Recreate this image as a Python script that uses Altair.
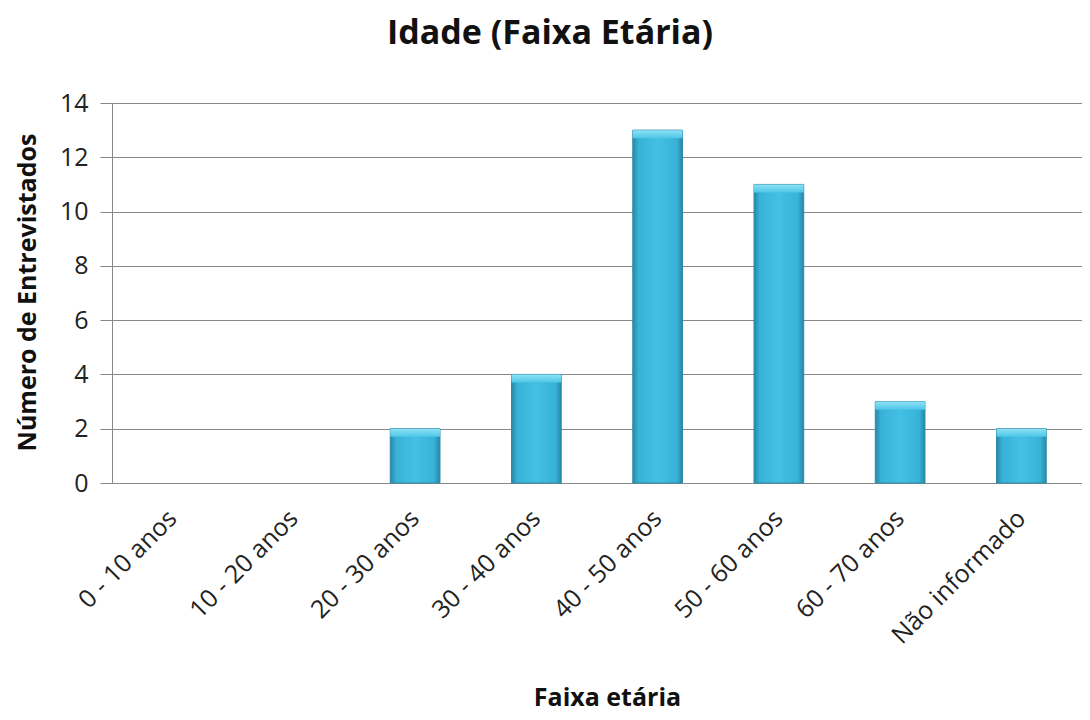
import altair as alt
import pandas as pd

categorias = ["0 - 10 anos", "10 - 20 anos", "20 - 30 anos", "30 - 40 anos",
              "40 - 50 anos", "50 - 60 anos", "60 - 70 anos", "Não informado"]
entrevistados = [0, 0, 2, 4, 13, 11, 3, 2]

df = pd.DataFrame({"cat": categorias, "n": entrevistados})

FONT = "Open Sans"

grad = alt.Gradient(
    gradient="linear", x1=0, x2=1, y1=0, y2=0,
    stops=[
        alt.GradientStop(color="#2a86a6", offset=0),
        alt.GradientStop(color="#38b3d8", offset=0.12),
        alt.GradientStop(color="#43c0e3", offset=0.5),
        alt.GradientStop(color="#38b3d8", offset=0.88),
        alt.GradientStop(color="#2a86a6", offset=1),
    ],
)
cap_grad = alt.Gradient(
    gradient="linear", x1=0, x2=0, y1=0, y2=1,
    stops=[
        alt.GradientStop(color="#8fe2f5", offset=0),
        alt.GradientStop(color="#4cc6e7", offset=1),
    ],
)

x_enc = alt.X("cat:N", sort=categorias,
              scale=alt.Scale(domain=categorias, paddingInner=0.59, paddingOuter=0.295),
              axis=alt.Axis(title="Faixa etária", labelAngle=-45, labelAlign="right",
                            labelBaseline="middle", labelPadding=31, ticks=False,
                            labelFontSize=25, labelFont=FONT, labelColor="#222",
                            titleFontSize=25, titleFont=FONT, titleFontWeight="bold",
                            titleColor="#111", titleY=214, titleX=495, titleAlign="center",
                            titleBaseline="middle",
                            domainColor="#888", domainWidth=1.2))
y_enc = alt.Y("n:Q", scale=alt.Scale(domain=[0, 14]),
              axis=alt.Axis(title="Número de Entrevistados", values=list(range(0, 15, 2)),
                            tickSize=12, tickColor="#888", domainColor="#888",
                            gridColor="#888", gridWidth=1,
                            labelFontSize=25, labelFont=FONT, labelColor="#222", labelPadding=12,
                            titleFontSize=25, titleFont=FONT, titleFontWeight="bold",
                            titleColor="#111", titleX=-85, titleY=189, titleAlign="center",
                            titleBaseline="middle"))

base = alt.Chart(df).transform_filter("datum.n > 0")

bars = base.mark_bar(fill=grad, stroke="#2c8aa8", strokeWidth=1).encode(x=x_enc, y=y_enc)

caps = base.transform_calculate(top="datum.n - 0.3").mark_bar(fill=cap_grad).encode(
    x=x_enc, y=y_enc, y2="top:Q",
)

chart = alt.layer(bars, caps).properties(
    width=970, height=380,
    title=alt.TitleParams("Idade (Faixa Etária)", fontSize=34, font=FONT, fontWeight="bold",
                          color="#111", dx=-47, offset=40),
    autosize="none",
    padding={"left": 104, "top": 95, "right": 0, "bottom": 229},
).configure_view(stroke=None)

chart.save("out.html", embed_options={"renderer": "svg", "actions": False})
